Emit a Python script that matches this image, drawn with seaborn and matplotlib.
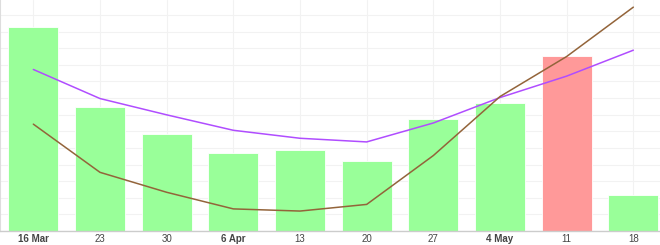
import matplotlib
matplotlib.use("Agg")
import matplotlib.pyplot as plt
import seaborn as sns
import pandas as pd
import numpy as np

categories = ["16 Mar", "23", "30", "6 Apr", "13", "20", "27", "4 May", "11", "18"]
bold_labels = ["16 Mar", "6 Apr", "4 May"]
bar_values = [12.3, 7.45, 5.86, 4.7, 4.88, 4.2, 6.75, 7.73, 10.56, 2.19]
bar_colors = ["#99ff99"] * 8 + ["#ff9999"] + ["#99ff99"]
purple_line = [9.72, 7.97, 6.99, 6.06, 5.58, 5.36, 6.5, 8.03, 9.32, 10.88]
brown_line = [6.43, 3.53, 2.33, 1.33, 1.2, 1.6, 4.54, 8.09, 10.5, 13.47]

sns.set_theme(style="white")
plt.rcParams['font.family'] = ['Liberation Sans', 'DejaVu Sans']

df = pd.DataFrame({"cat": categories, "val": bar_values, "purple": purple_line, "brown": brown_line})
df["pos"] = np.arange(len(categories))

fig = plt.figure(figsize=(6.6, 2.45), dpi=100)
ax = fig.add_axes([0.0, 1 - 231 / 245, 1.0, 231 / 245])

sns.barplot(data=df, x="cat", y="val", hue="cat", palette=bar_colors, legend=False,
            width=0.75, ax=ax, edgecolor="#ffffff", linewidth=0.6, saturation=1, zorder=2)
sns.lineplot(data=df, x="pos", y="purple", ax=ax, color="#b04dff", linewidth=1.1, zorder=3)
sns.lineplot(data=df, x="pos", y="brown", ax=ax, color="#93643a", linewidth=1.1, zorder=4)

ax.set_xlim(-0.5, 9.4)
ax.set_ylim(0, 13.9)
ax.set_yticks(np.arange(0, 14, 1))
ax.set_yticklabels([])
ax.set_xticks(df["pos"])
ax.set_xticklabels(categories)
for lbl in ax.get_xticklabels():
    lbl.set_fontsize(7)
    lbl.set_color("#444444")
    if lbl.get_text() in bold_labels:
        lbl.set_fontweight("bold")
ax.tick_params(axis="x", length=0, pad=2)
ax.tick_params(axis="y", length=0)
ax.set_xlabel("")
ax.set_ylabel("")
ax.grid(True, color="#f2f2f2", linewidth=0.8, zorder=0)
ax.set_axisbelow(True)
for s in ["top", "right"]:
    ax.spines[s].set_visible(False)
ax.spines["bottom"].set_color("#cccccc")
ax.spines["bottom"].set_linewidth(1)
ax.spines["left"].set_color("#dddddd")
ax.spines["left"].set_linewidth(0.8)

fig.savefig("out.png", dpi=100)
